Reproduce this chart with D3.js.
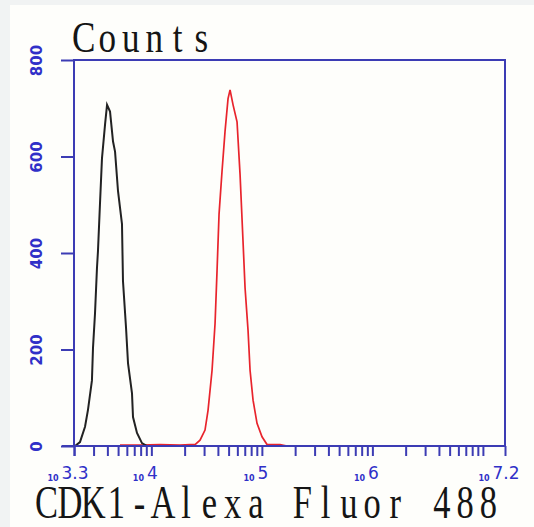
<!DOCTYPE html>
<html><head><meta charset="utf-8">
<script src="https://cdn.jsdelivr.net/npm/d3@7"></script>
<style>html,body{margin:0;padding:0;background:#f1f3f3;}</style>
</head><body>
<svg id="c" width="534" height="527"></svg>
<script>
// ---- data ----
const blackX = [2040,2260,2510,2670,2900,2965,3090,3220,3288,3427,3574,3809,3972,4227,4500,4693,4993,5423,5536,5899,6151,6681,6822,7413,8222,9141];
const blackY = [0,8,40,75,136,204,274,369,404,501,596,666,707,693,631,610,528,460,342,245,171,109,60,27,6,0];
const redX = [5200,7890,11970,18160,22370,24840,27560,30590,32570,35420,37700,39290,40960,43580,46420,49420,51530,54870,59610,63470,67500,70440,74990,78180,83210,90400,100300,111400,146000,168900];
const redY = [2,2,3,2,3,3,12,33,74,157,254,363,480,569,652,720,738,707,672,563,425,328,239,157,95,47,19,3,3,0];
const yTicks = [0,200,400,600,800];
const xLabelExps = ["3.3","4","5","6","7.2"];
const xTitle = "CDK1-Alexa Fluor 488";
const yTitle = "Counts";

const svg = d3.select("#c");
svg.append("rect").attr("x",10).attr("y",5).attr("width",524).attr("height",522).attr("fill","#fefefb");

const L=74,R=505,T=60,B=446;
const x = d3.scaleLog().domain([Math.pow(10,3.3),Math.pow(10,7.2)]).range([L,R]);
const y = d3.scaleLinear().domain([0,800]).range([B,T]);
const blue="#3c3cb4";

// curves
const line = d3.line().x(d=>x(d[0])).y(d=>y(d[1])).curve(d3.curveLinear);
svg.append("path").datum(redX.map((v,i)=>[v,redY[i]])).attr("d",line)
  .attr("fill","none").attr("stroke","#e8242c").attr("stroke-width",1.7);
svg.append("path").datum(blackX.map((v,i)=>[v,blackY[i]])).attr("d",line)
  .attr("fill","none").attr("stroke","#222").attr("stroke-width",2);

// frame
svg.append("rect").attr("x",L).attr("y",T).attr("width",R-L).attr("height",B-T)
  .attr("fill","none").attr("stroke",blue).attr("stroke-width",2);

// y axis
const yAxis = d3.axisLeft(y).tickValues(yTicks).tickSize(13).tickFormat(d3.format("d"));
const gy = svg.append("g").attr("transform",`translate(${L},0)`).call(yAxis);
gy.select(".domain").remove();
gy.selectAll("line").attr("stroke",blue).attr("stroke-width",2);
gy.selectAll("text").attr("fill","#3030c8").attr("font-family","DejaVu Sans").attr("font-weight","bold")
  .attr("font-size",15).attr("x",0).attr("y",0).attr("dy","0.35em").attr("text-anchor","middle")
  .attr("transform","translate(-37,0) rotate(-90)");

// x axis ticks
const tickVals=[Math.pow(10,3.3)];
for(let e=3;e<=7;e++){for(let k=1;k<=9;k++){const v=k*Math.pow(10,e); if(v>Math.pow(10,3.3)&&v<Math.pow(10,7.2)) tickVals.push(v);}}
tickVals.push(Math.pow(10,7.2));
const xAxis = d3.axisBottom(x).tickValues(tickVals).tickSize(10).tickFormat("");
const gx = svg.append("g").attr("transform",`translate(0,${B})`).call(xAxis);
gx.select(".domain").remove();
gx.selectAll("text").remove();
gx.selectAll("line").attr("stroke",blue).attr("stroke-width",2);
svg.append("line").attr("x1",62).attr("x2",L).attr("y1",B).attr("y2",B).attr("stroke",blue).attr("stroke-width",2);

// x tick labels: small "10" base + larger exponent, as two separate texts
xLabelExps.forEach(e=>{
  const px = x(Math.pow(10,+e));
  const base = svg.append("text").attr("y",481).attr("font-size",8).attr("font-weight","bold")
    .attr("fill","#3030c8").attr("font-family","DejaVu Sans").text("10");
  const ex = svg.append("text").attr("y",479).attr("font-size",17)
    .attr("fill","#3030c8").attr("font-family","DejaVu Sans").text(e);
  const wb = base.node().getComputedTextLength(), we = ex.node().getComputedTextLength();
  const start = px - 6 - (wb + 3 + we)/2;
  base.attr("x", start);
  ex.attr("x", start + wb + 3);
});

// monospace-like serif titles: one text, one cell per character
function monoText(str, x0, baseline, cell, size, sx){
  const t = svg.append("text").attr("transform",`translate(${x0},${baseline}) scale(${sx},1)`)
    .attr("font-family","Liberation Serif").attr("font-size",size).attr("fill","#151515");
  t.selectAll("tspan").data(str.split("")).join("tspan")
    .attr("x",(d,i)=>(i*cell+cell/2)/sx).attr("y",0).attr("text-anchor","middle").text(d=>d);
  return t;
}
monoText(yTitle, 72, 52, 23.5, 45, 0.78);
monoText(xTitle, 35, 518, 23.25, 46, 0.75);
</script>
</body></html>
